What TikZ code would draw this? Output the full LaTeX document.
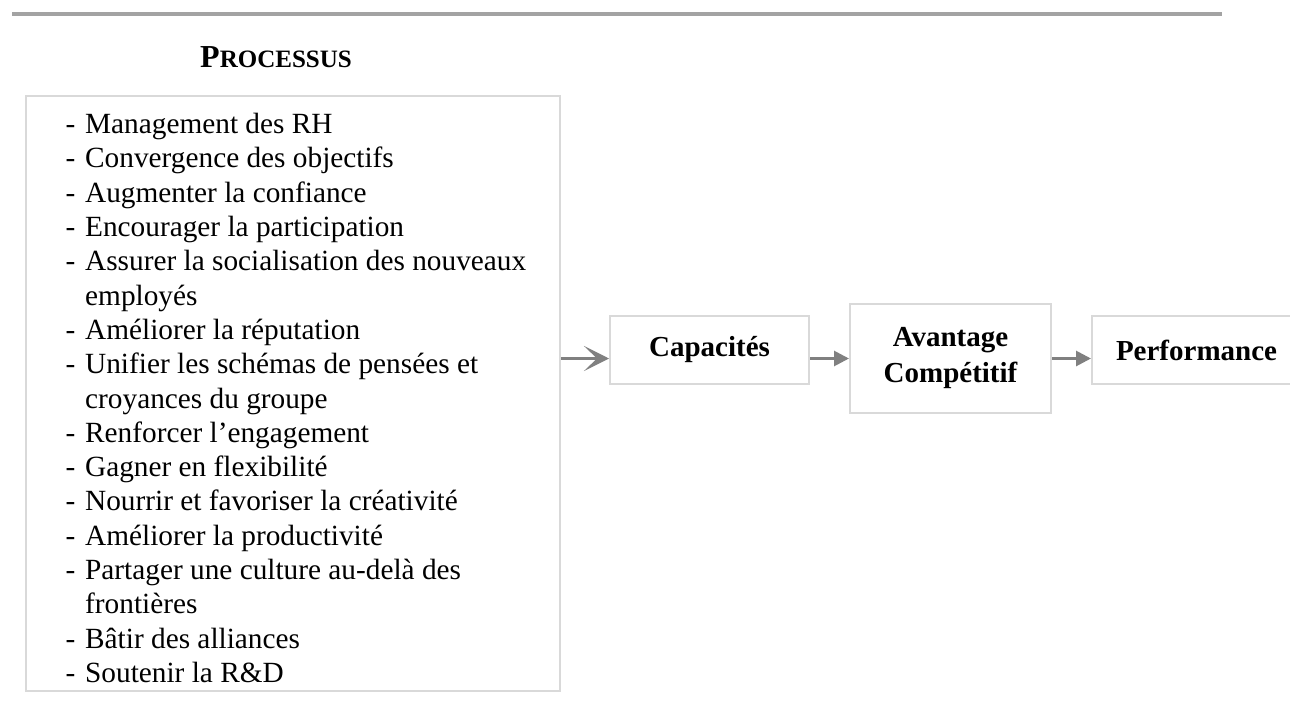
\documentclass[tikz,border=0pt]{standalone}
\usepackage{fontspec}
\setmainfont{Liberation Serif}
\usetikzlibrary{arrows.meta}
\definecolor{boxline}{HTML}{D9D9D9}
\definecolor{arrowgray}{HTML}{808080}
\definecolor{bargray}{HTML}{A3A3A3}
% one list entry with its leading dash, and the indented follow-on line
\newcommand{\dashitem}[1]{\makebox[19.5pt][l]{-}#1}
\newcommand{\contline}[1]{\hspace*{19.5pt}#1}
\begin{document}
\begin{tikzpicture}[x=1pt,y=-1pt,
  frame/.style={draw=boxline, line width=2pt, inner sep=0pt},
  stage/.style={frame, font=\fontsize{29}{36}\selectfont\bfseries, align=center},
  flow/.style={draw=arrowgray, line width=2.8pt, -{Triangle[length=15pt,width=15pt]}},
  openflow/.style={draw=arrowgray, line width=2.8pt, -{Stealth[length=25pt,width=25pt,inset=13pt]}},
]
\useasboundingbox (0,0) rectangle (1290,709);
\fill[white] (0,0) rectangle (1290,709);

% rule across the top of the page
\draw[bargray, line width=4pt] (12,14) -- (1222,14);

% heading in small capitals
\node[anchor=base, inner sep=0pt, font=\bfseries] (title) at (276,67.3)
  {{\fontsize{32}{32}\selectfont P}{\fontsize{25}{32}\selectfont ROCESSUS}};

% frame holding the list of processes
\node[frame, anchor=north west, minimum width=534pt, minimum height=595pt] (list) at (25,95) {};
\node[anchor=north west, inner sep=0pt, align=left,
      font=\fontsize{29.3}{34.3}\selectfont] (items) at (65.5,113.1) {%
  \dashitem{Management des RH}\\
  \dashitem{Convergence des objectifs}\\
  \dashitem{Augmenter la confiance}\\
  \dashitem{Encourager la participation}\\
  \dashitem{Assurer la socialisation des nouveaux}\\
  \contline{employés}\\
  \dashitem{Améliorer la réputation}\\
  \dashitem{Unifier les schémas de pensées et}\\
  \contline{croyances du groupe}\\
  \dashitem{Renforcer l’engagement}\\
  \dashitem{Gagner en flexibilité}\\
  \dashitem{Nourrir et favoriser la créativité}\\
  \dashitem{Améliorer la productivité}\\
  \dashitem{Partager une culture au-delà des}\\
  \contline{frontières}\\
  \dashitem{Bâtir des alliances}\\
  \dashitem{Soutenir la R\&D}};

% chain of outcomes
\node[stage, minimum width=199pt, minimum height=68pt] (cap) at (709.5,350) {Capacités};
\node[stage, minimum width=201pt, minimum height=109pt] (av) at (950.5,358.5) {Avantage\\Compétitif};
\node[stage, minimum width=209pt, minimum height=68pt] (perf) at (1196.5,350) {Performance};

% connectors
\draw[openflow] (list.east |- av.center) -- (cap.west |- av.center);
\draw[flow] (cap.east |- av.center) -- (av.west |- av.center);
\draw[flow] (av.east |- av.center) -- (perf.west |- av.center);
\end{tikzpicture}
\end{document}
